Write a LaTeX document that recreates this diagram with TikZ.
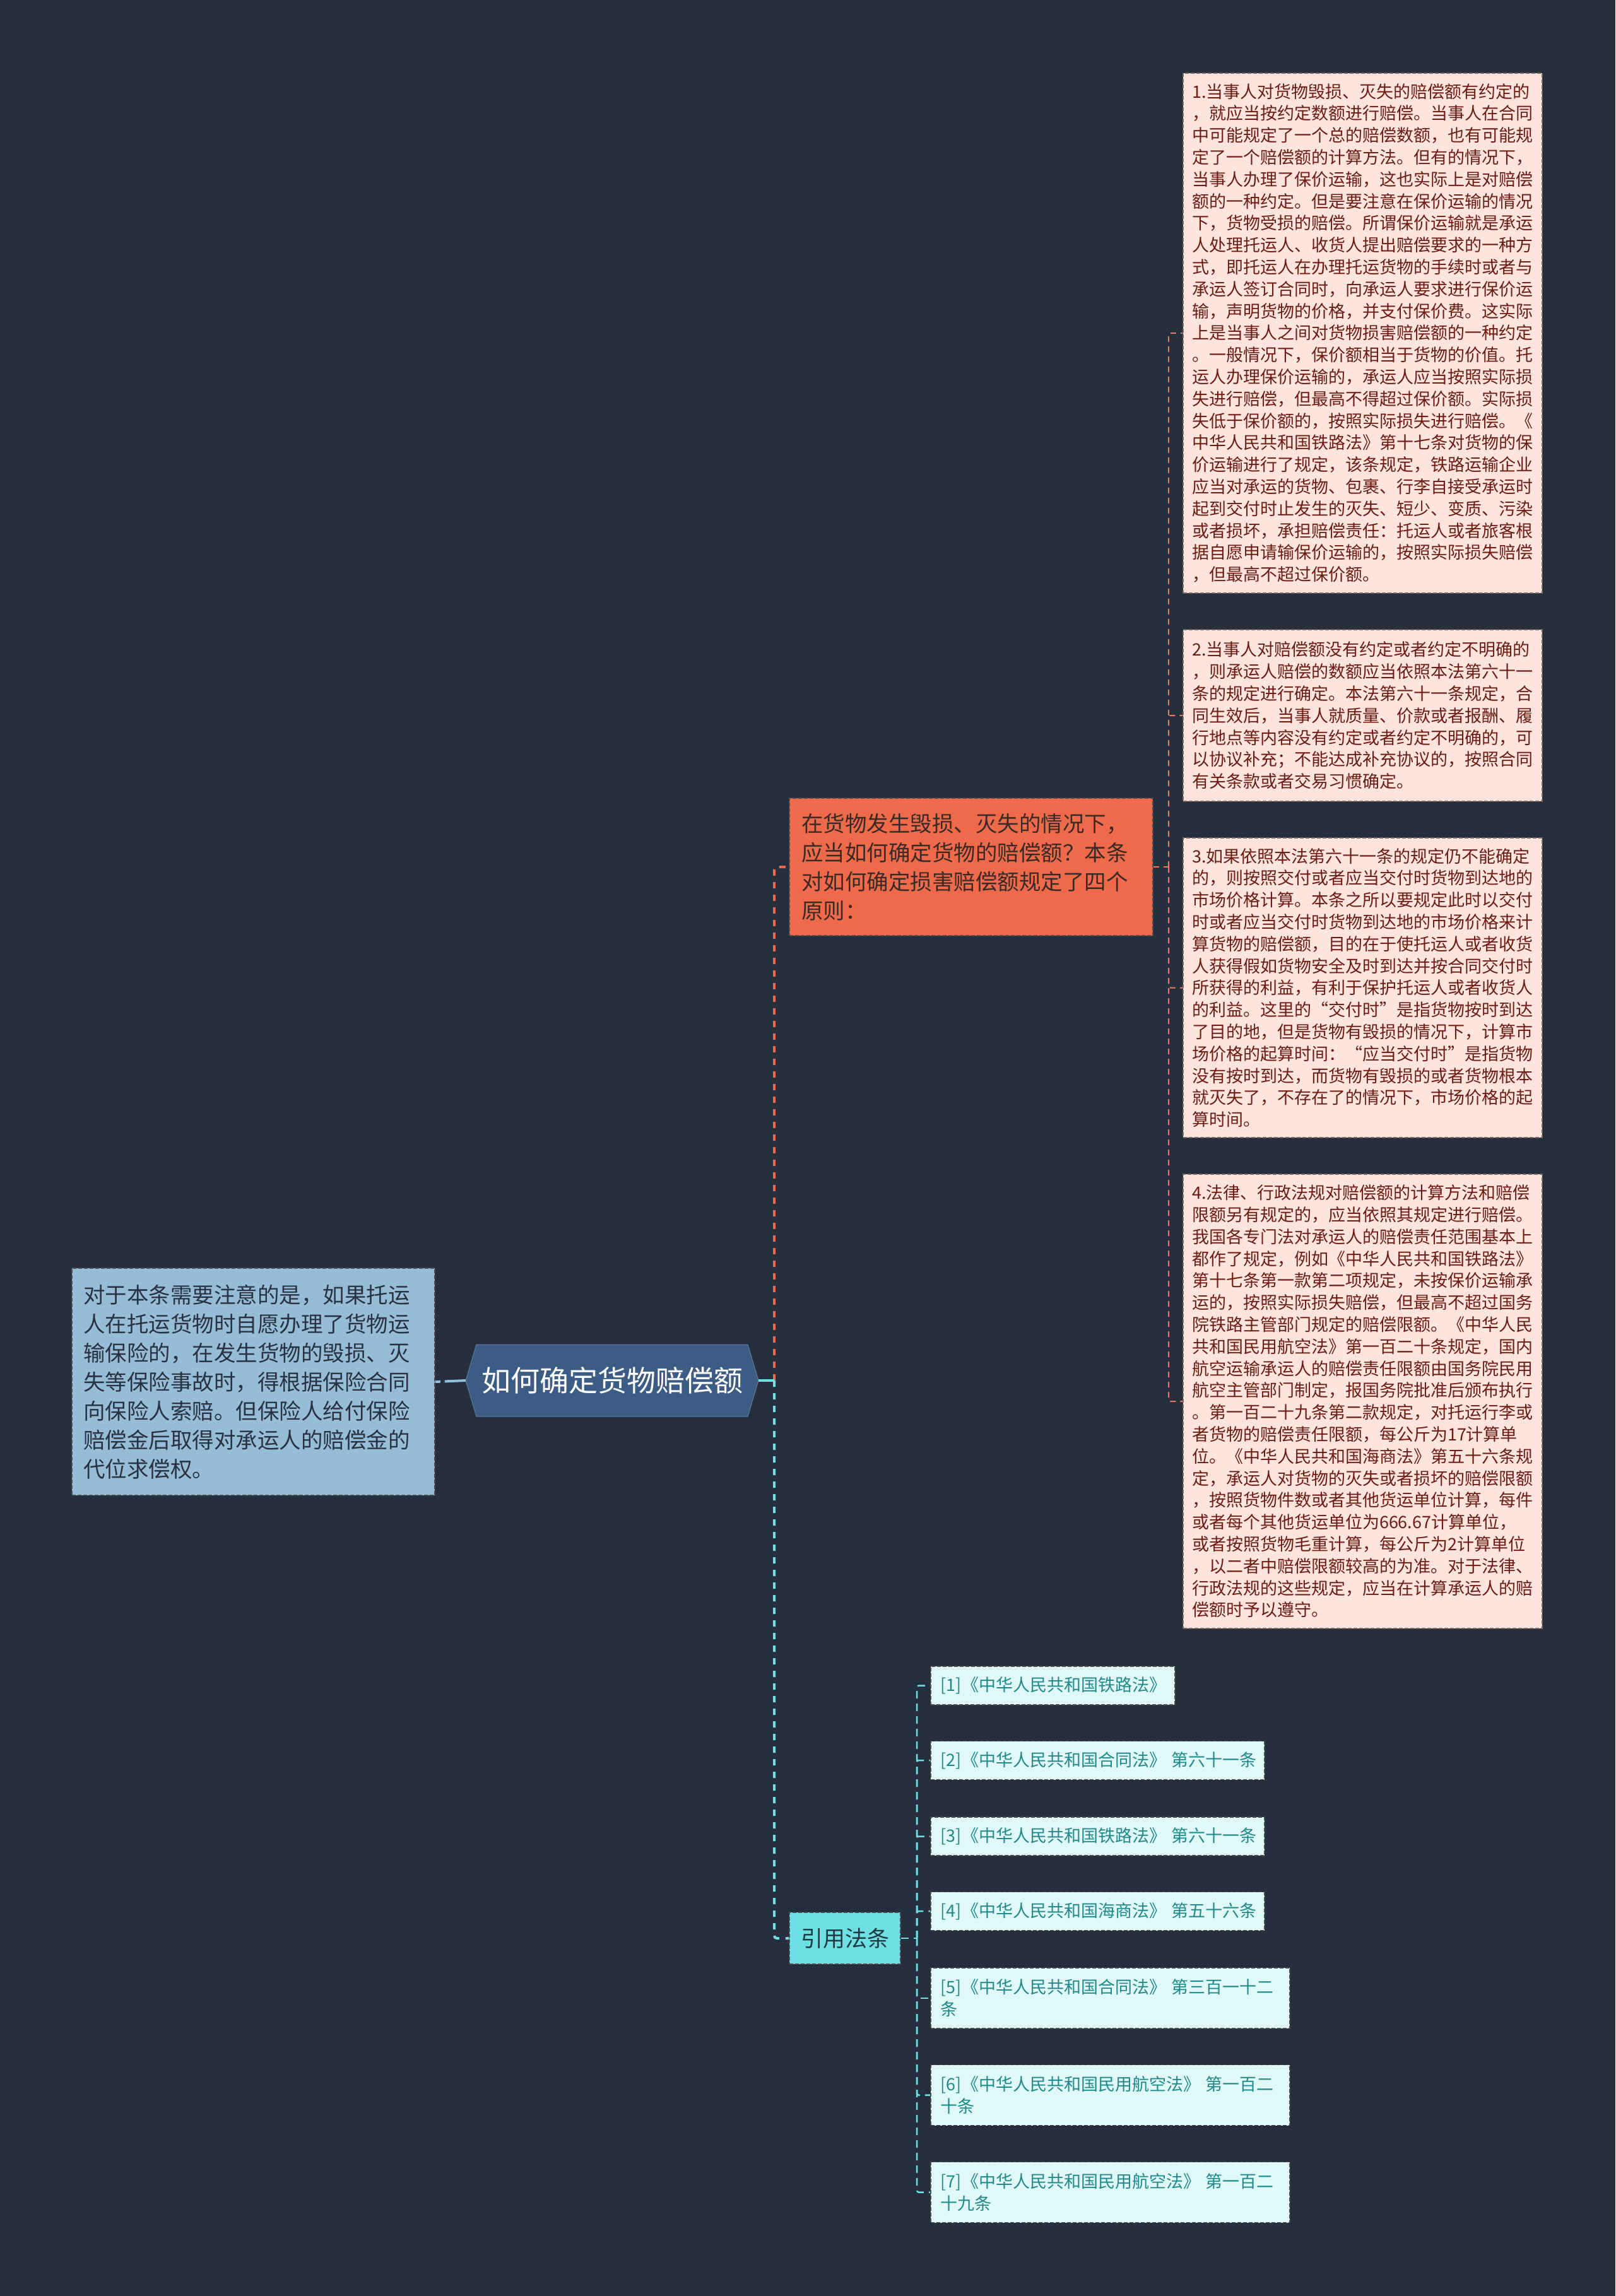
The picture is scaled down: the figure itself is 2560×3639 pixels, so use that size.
\documentclass[tikz,border=0pt]{standalone}
\usepackage{fontspec}
\setmainfont{Noto Sans CJK SC}
\usetikzlibrary{calc}
\definecolor{bg}{HTML}{262F3E}
\definecolor{orfill}{HTML}{EE6A4B}
\definecolor{ortext}{HTML}{3A2A26}
\definecolor{pinkfill}{HTML}{FDE5DE}
\definecolor{pinktext}{HTML}{6E1C12}
\definecolor{pinkedge}{HTML}{7A6660}
\definecolor{leftfill}{HTML}{95BDD8}
\definecolor{lefttext}{HTML}{2A3140}
\definecolor{hexfill}{HTML}{3C5C86}
\definecolor{cyanfill}{HTML}{6EDFE5}
\definecolor{cyantext}{HTML}{1E3A40}
\definecolor{citefill}{HTML}{E1F8F8}
\definecolor{citetext}{HTML}{1F8A8C}
\definecolor{darkedge}{HTML}{4A4A4A}
\definecolor{bluecon}{HTML}{8EC0DC}
\tikzset{
  boxbase/.style={rectangle, dash pattern=on 6pt off 3pt, line width=1.5pt, align=left},
  pinkbox/.style={boxbase, draw=pinkedge, fill=pinkfill, text=pinktext,
    font=\fontsize{27}{34.8}\selectfont, inner xsep=14pt, inner ysep=0pt,
    text width=541pt, minimum width=569pt},
  orbox/.style={boxbase, draw=darkedge, fill=orfill, text=ortext,
    font=\fontsize{34.5}{46}\selectfont, inner xsep=19pt, inner ysep=0pt,
    text width=538pt, minimum width=576pt, minimum height=218pt},
  leftbox/.style={boxbase, draw=darkedge, fill=leftfill, text=lefttext,
    font=\fontsize{34.5}{46}\selectfont, inner xsep=18pt, inner ysep=0pt,
    text width=539pt, minimum width=575pt, minimum height=360pt},
  hexshape/.style={fill=hexfill, draw=hexfill!80!white, line width=1pt},
  hextext/.style={text=white, font=\fontsize{46}{56}\selectfont, inner sep=0pt,
    minimum width=464pt, minimum height=114pt},
  cyanhead/.style={boxbase, draw=darkedge, fill=cyanfill, text=cyantext,
    font=\fontsize{35}{44}\selectfont, inner sep=0pt, align=center,
    minimum width=176pt, minimum height=82pt},
  citebox/.style={boxbase, draw=darkedge, fill=citefill, text=citetext,
    font=\fontsize{27}{35}\selectfont, inner xsep=16pt, inner ysep=0pt, anchor=west},
  orline/.style={draw=orfill, line width=4pt, dash pattern=on 10pt off 10pt},
  orthin/.style={draw=orfill!90!white, line width=2pt, dash pattern=on 9pt off 7pt, rounded corners=3pt},
  cyline/.style={draw=cyanfill, line width=4pt, dash pattern=on 10pt off 10pt},
  cysolid/.style={draw=cyanfill, line width=4pt},
  cythin/.style={draw=cyanfill, line width=2.5pt, dash pattern=on 12pt off 8pt, rounded corners=3pt},
  blueline/.style={draw=bluecon, line width=4pt, dash pattern=on 33pt off 7pt}
}
\begin{document}
\begin{tikzpicture}[x=1pt,y=-1pt]
\fill[bg] (0,0) rectangle (2560,3639);
\useasboundingbox (0,0) rectangle (2560,3639);

% central topic
\path[hexshape] (738,2188) -- (755,2131) -- (1185,2131) -- (1202,2188) -- (1185,2245) -- (755,2245) -- cycle;
\node[hextext] (c) at (970,2188) {如何确定货物赔偿额};

% left note
\node[leftbox] (L) at (401.5,2190) {对于本条需要注意的是，如果托运\\人在托运货物时自愿办理了货物运\\输保险的，在发生货物的毁损、灭\\失等保险事故时，得根据保险合同\\向保险人索赔。但保险人给付保险\\赔偿金后取得对承运人的赔偿金的\\代位求偿权。};

% orange branch
\node[orbox] (O) at (1539,1374) {在货物发生毁损、灭失的情况下，\\应当如何确定货物的赔偿额？本条\\对如何确定损害赔偿额规定了四个\\原则：};

% four principles
\node[pinkbox, minimum height=824pt] (b1) at (2159.5,528) {1.当事人对货物毁损、灭失的赔偿额有约定的\\，就应当按约定数额进行赔偿。当事人在合同\\中可能规定了一个总的赔偿数额，也有可能规\\定了一个赔偿额的计算方法。但有的情况下，\\当事人办理了保价运输，这也实际上是对赔偿\\额的一种约定。但是要注意在保价运输的情况\\下，货物受损的赔偿。所谓保价运输就是承运\\人处理托运人、收货人提出赔偿要求的一种方\\式，即托运人在办理托运货物的手续时或者与\\承运人签订合同时，向承运人要求进行保价运\\输，声明货物的价格，并支付保价费。这实际\\上是当事人之间对货物损害赔偿额的一种约定\\。一般情况下，保价额相当于货物的价值。托\\运人办理保价运输的，承运人应当按照实际损\\失进行赔偿，但最高不得超过保价额。实际损\\失低于保价额的，按照实际损失进行赔偿。《\\中华人民共和国铁路法》第十七条对货物的保\\价运输进行了规定，该条规定，铁路运输企业\\应当对承运的货物、包裹、行李自接受承运时\\起到交付时止发生的灭失、短少、变质、污染\\或者损坏，承担赔偿责任：托运人或者旅客根\\据自愿申请输保价运输的，按照实际损失赔偿\\，但最高不超过保价额。};

\node[pinkbox, minimum height=272pt] (b2) at (2159.5,1134) {2.当事人对赔偿额没有约定或者约定不明确的\\，则承运人赔偿的数额应当依照本法第六十一\\条的规定进行确定。本法第六十一条规定，合\\同生效后，当事人就质量、价款或者报酬、履\\行地点等内容没有约定或者约定不明确的，可\\以协议补充；不能达成补充协议的，按照合同\\有关条款或者交易习惯确定。};

\node[pinkbox, minimum height=475pt] (b3) at (2159.5,1565.5) {3.如果依照本法第六十一条的规定仍不能确定\\的，则按照交付或者应当交付时货物到达地的\\市场价格计算。本条之所以要规定此时以交付\\时或者应当交付时货物到达地的市场价格来计\\算货物的赔偿额，目的在于使托运人或者收货\\人获得假如货物安全及时到达并按合同交付时\\所获得的利益，有利于保护托运人或者收货人\\的利益。这里的“交付时”是指货物按时到达\\了目的地，但是货物有毁损的情况下，计算市\\场价格的起算时间：“应当交付时”是指货物\\没有按时到达，而货物有毁损的或者货物根本\\就灭失了，不存在了的情况下，市场价格的起\\算时间。};

\node[pinkbox, minimum height=720pt] (b4) at (2159.5,2221) {4.法律、行政法规对赔偿额的计算方法和赔偿\\限额另有规定的，应当依照其规定进行赔偿。\\我国各专门法对承运人的赔偿责任范围基本上\\都作了规定，例如《中华人民共和国铁路法》\\第十七条第一款第二项规定，未按保价运输承\\运的，按照实际损失赔偿，但最高不超过国务\\院铁路主管部门规定的赔偿限额。《中华人民\\共和国民用航空法》第一百二十条规定，国内\\航空运输承运人的赔偿责任限额由国务院民用\\航空主管部门制定，报国务院批准后颁布执行\\。第一百二十九条第二款规定，对托运行李或\\者货物的赔偿责任限额，每公斤为17计算单\\位。《中华人民共和国海商法》第五十六条规\\定，承运人对货物的灭失或者损坏的赔偿限额\\，按照货物件数或者其他货运单位计算，每件\\或者每个其他货运单位为666.67计算单位，\\或者按照货物毛重计算，每公斤为2计算单位\\，以二者中赔偿限额较高的为准。对于法律、\\行政法规的这些规定，应当在计算承运人的赔\\偿额时予以遵守。};

% cited laws
\node[cyanhead] (Y) at (1339,3072) {引用法条};
\node[citebox, text width=355pt, minimum height=61pt] (r1) at (1474,2671.5) {[1]《中华人民共和国铁路法》};
\node[citebox, text width=497pt, minimum height=61pt] (r2) at (1474,2790) {[2]《中华人民共和国合同法》~第六十一条};
\node[citebox, text width=497pt, minimum height=61pt] (r3) at (1474,2910.5) {[3]《中华人民共和国铁路法》~第六十一条};
\node[citebox, text width=497pt, minimum height=61pt] (r4) at (1474,3029) {[4]《中华人民共和国海商法》~第五十六条};
\node[citebox, text width=537pt, minimum height=96pt] (r5) at (1474,3167) {[5]《中华人民共和国合同法》~第三百一十二\\条};
\node[citebox, text width=537pt, minimum height=96pt] (r6) at (1474,3320.5) {[6]《中华人民共和国民用航空法》~第一百二\\十条};
\node[citebox, text width=537pt, minimum height=96pt] (r7) at (1474,3474.5) {[7]《中华人民共和国民用航空法》~第一百二\\十九条};

% junction coordinates
\coordinate (j) at (1227,2188);
\coordinate (k) at (1852,1374);
\coordinate (m) at (1453,3072);

% connectors
\draw[blueline] (c.west) -- (L.east);
\draw[orline, rounded corners=4pt] (j) |- (O.west);
\draw[cyline, rounded corners=4pt] (j) |- (Y.west);
\draw[cysolid] (c.east) -- (j);

\draw[orthin] (O.east) -- (k);
\foreach \b in {b1,b2,b3,b4} {\draw[orthin] (k) |- (\b.west);}

\draw[cythin] (Y.east) -- (m);
\foreach \r in {r1,r2,r3,r4,r5,r6,r7} {\draw[cythin] (m) |- (\r.west);}
\end{tikzpicture}
\end{document}
